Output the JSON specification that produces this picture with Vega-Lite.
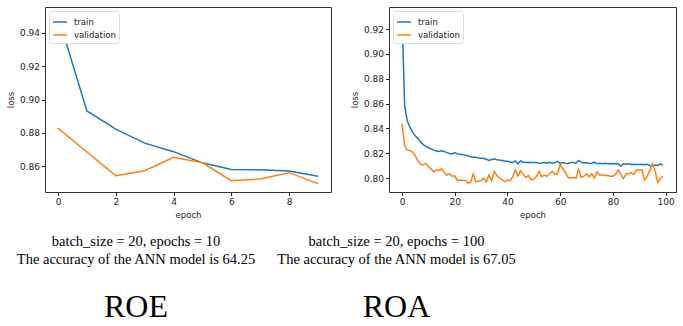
{
  "$schema": "https://vega.github.io/schema/vega-lite/v6.json",
  "padding": {"left": 5, "top": 6, "right": 3, "bottom": 5},
  "spacing": 58,
  "bounds": "flush",
  "background": "white",
  "datasets": {
    "roe": [
      {"epoch": 0, "loss": 0.9501, "series": "train"},
      {"epoch": 1, "loss": 0.8931, "series": "train"},
      {"epoch": 2, "loss": 0.8822, "series": "train"},
      {"epoch": 3, "loss": 0.8738, "series": "train"},
      {"epoch": 4, "loss": 0.8687, "series": "train"},
      {"epoch": 5, "loss": 0.8620, "series": "train"},
      {"epoch": 6, "loss": 0.8580, "series": "train"},
      {"epoch": 7, "loss": 0.8578, "series": "train"},
      {"epoch": 8, "loss": 0.8571, "series": "train"},
      {"epoch": 9, "loss": 0.8539, "series": "train"},
      {"epoch": 0, "loss": 0.8828, "series": "validation"},
      {"epoch": 1, "loss": 0.8685, "series": "validation"},
      {"epoch": 2, "loss": 0.8543, "series": "validation"},
      {"epoch": 3, "loss": 0.8573, "series": "validation"},
      {"epoch": 4, "loss": 0.8653, "series": "validation"},
      {"epoch": 5, "loss": 0.8620, "series": "validation"},
      {"epoch": 6, "loss": 0.8513, "series": "validation"},
      {"epoch": 7, "loss": 0.8523, "series": "validation"},
      {"epoch": 8, "loss": 0.8561, "series": "validation"},
      {"epoch": 9, "loss": 0.8495, "series": "validation"}
    ],
    "roa_train": [
      {"epoch": 0, "loss": 0.930}, {"epoch": 1, "loss": 0.858}, {"epoch": 2, "loss": 0.846}, {"epoch": 3, "loss": 0.841}, {"epoch": 4, "loss": 0.837},
      {"epoch": 5, "loss": 0.834}, {"epoch": 6, "loss": 0.832}, {"epoch": 7, "loss": 0.829}, {"epoch": 8, "loss": 0.827}, {"epoch": 9, "loss": 0.8255},
      {"epoch": 10, "loss": 0.8245}, {"epoch": 11, "loss": 0.8235}, {"epoch": 12, "loss": 0.8225}, {"epoch": 13, "loss": 0.8218}, {"epoch": 14, "loss": 0.8215},
      {"epoch": 15, "loss": 0.822}, {"epoch": 16, "loss": 0.8215}, {"epoch": 17, "loss": 0.8205}, {"epoch": 18, "loss": 0.8198}, {"epoch": 19, "loss": 0.8195},
      {"epoch": 20, "loss": 0.8205}, {"epoch": 21, "loss": 0.8195}, {"epoch": 22, "loss": 0.8192}, {"epoch": 23, "loss": 0.8188}, {"epoch": 24, "loss": 0.8185},
      {"epoch": 25, "loss": 0.818}, {"epoch": 26, "loss": 0.8172}, {"epoch": 27, "loss": 0.8168}, {"epoch": 28, "loss": 0.8168}, {"epoch": 29, "loss": 0.8162},
      {"epoch": 30, "loss": 0.816}, {"epoch": 31, "loss": 0.8158}, {"epoch": 32, "loss": 0.8152}, {"epoch": 33, "loss": 0.8142}, {"epoch": 34, "loss": 0.815},
      {"epoch": 35, "loss": 0.8155}, {"epoch": 36, "loss": 0.8148}, {"epoch": 37, "loss": 0.8145}, {"epoch": 38, "loss": 0.8142}, {"epoch": 39, "loss": 0.8138},
      {"epoch": 40, "loss": 0.8135}, {"epoch": 41, "loss": 0.813}, {"epoch": 42, "loss": 0.8125}, {"epoch": 43, "loss": 0.8138}, {"epoch": 44, "loss": 0.8115},
      {"epoch": 45, "loss": 0.8138}, {"epoch": 46, "loss": 0.8128}, {"epoch": 47, "loss": 0.8125}, {"epoch": 48, "loss": 0.8128}, {"epoch": 49, "loss": 0.8125},
      {"epoch": 50, "loss": 0.8125}, {"epoch": 51, "loss": 0.8125}, {"epoch": 52, "loss": 0.812}, {"epoch": 53, "loss": 0.8122}, {"epoch": 54, "loss": 0.8125},
      {"epoch": 55, "loss": 0.812}, {"epoch": 56, "loss": 0.8128}, {"epoch": 57, "loss": 0.812}, {"epoch": 58, "loss": 0.8125}, {"epoch": 59, "loss": 0.8135},
      {"epoch": 60, "loss": 0.8118}, {"epoch": 61, "loss": 0.8125}, {"epoch": 62, "loss": 0.812}, {"epoch": 63, "loss": 0.8118}, {"epoch": 64, "loss": 0.8125},
      {"epoch": 65, "loss": 0.8125}, {"epoch": 66, "loss": 0.812}, {"epoch": 67, "loss": 0.8142}, {"epoch": 68, "loss": 0.8128}, {"epoch": 69, "loss": 0.812},
      {"epoch": 70, "loss": 0.8125}, {"epoch": 71, "loss": 0.8118}, {"epoch": 72, "loss": 0.812}, {"epoch": 73, "loss": 0.8128}, {"epoch": 74, "loss": 0.8115},
      {"epoch": 75, "loss": 0.812}, {"epoch": 76, "loss": 0.8115}, {"epoch": 77, "loss": 0.812}, {"epoch": 78, "loss": 0.8115}, {"epoch": 79, "loss": 0.8118},
      {"epoch": 80, "loss": 0.8115}, {"epoch": 81, "loss": 0.8118}, {"epoch": 82, "loss": 0.8115}, {"epoch": 83, "loss": 0.8095}, {"epoch": 84, "loss": 0.8115},
      {"epoch": 85, "loss": 0.8112}, {"epoch": 86, "loss": 0.8115}, {"epoch": 87, "loss": 0.811}, {"epoch": 88, "loss": 0.8112}, {"epoch": 89, "loss": 0.811},
      {"epoch": 90, "loss": 0.811}, {"epoch": 91, "loss": 0.8112}, {"epoch": 92, "loss": 0.8108}, {"epoch": 93, "loss": 0.8112}, {"epoch": 94, "loss": 0.8102},
      {"epoch": 95, "loss": 0.8095}, {"epoch": 96, "loss": 0.8105}, {"epoch": 97, "loss": 0.8102}, {"epoch": 98, "loss": 0.8115}, {"epoch": 99, "loss": 0.8102}
    ],
    "roa_val": [
      {"epoch": 0, "loss": 0.844}, {"epoch": 1, "loss": 0.826}, {"epoch": 2, "loss": 0.8225}, {"epoch": 3, "loss": 0.8222}, {"epoch": 4, "loss": 0.821},
      {"epoch": 5, "loss": 0.818}, {"epoch": 6, "loss": 0.814}, {"epoch": 7, "loss": 0.811}, {"epoch": 8, "loss": 0.8105}, {"epoch": 9, "loss": 0.812},
      {"epoch": 10, "loss": 0.809}, {"epoch": 11, "loss": 0.8075}, {"epoch": 12, "loss": 0.805}, {"epoch": 13, "loss": 0.8068}, {"epoch": 14, "loss": 0.806},
      {"epoch": 15, "loss": 0.8075}, {"epoch": 16, "loss": 0.8045}, {"epoch": 17, "loss": 0.8025}, {"epoch": 18, "loss": 0.8035}, {"epoch": 19, "loss": 0.8015},
      {"epoch": 20, "loss": 0.8018}, {"epoch": 21, "loss": 0.798}, {"epoch": 22, "loss": 0.7985}, {"epoch": 23, "loss": 0.798}, {"epoch": 24, "loss": 0.798},
      {"epoch": 25, "loss": 0.796}, {"epoch": 26, "loss": 0.7965}, {"epoch": 27, "loss": 0.8032}, {"epoch": 28, "loss": 0.797}, {"epoch": 29, "loss": 0.7975},
      {"epoch": 30, "loss": 0.798}, {"epoch": 31, "loss": 0.800}, {"epoch": 32, "loss": 0.797}, {"epoch": 33, "loss": 0.8025}, {"epoch": 34, "loss": 0.798},
      {"epoch": 35, "loss": 0.8055}, {"epoch": 36, "loss": 0.802}, {"epoch": 37, "loss": 0.800}, {"epoch": 38, "loss": 0.7985}, {"epoch": 39, "loss": 0.797},
      {"epoch": 40, "loss": 0.7985}, {"epoch": 41, "loss": 0.798}, {"epoch": 42, "loss": 0.801}, {"epoch": 43, "loss": 0.8065}, {"epoch": 44, "loss": 0.8015},
      {"epoch": 45, "loss": 0.806}, {"epoch": 46, "loss": 0.803}, {"epoch": 47, "loss": 0.8005}, {"epoch": 48, "loss": 0.802}, {"epoch": 49, "loss": 0.7985},
      {"epoch": 50, "loss": 0.799}, {"epoch": 51, "loss": 0.8015}, {"epoch": 52, "loss": 0.8055}, {"epoch": 53, "loss": 0.801}, {"epoch": 54, "loss": 0.8025},
      {"epoch": 55, "loss": 0.8015}, {"epoch": 56, "loss": 0.8035}, {"epoch": 57, "loss": 0.8055}, {"epoch": 58, "loss": 0.803}, {"epoch": 59, "loss": 0.8035},
      {"epoch": 60, "loss": 0.811}, {"epoch": 61, "loss": 0.8075}, {"epoch": 62, "loss": 0.8045}, {"epoch": 63, "loss": 0.8005}, {"epoch": 64, "loss": 0.800},
      {"epoch": 65, "loss": 0.8005}, {"epoch": 66, "loss": 0.800}, {"epoch": 67, "loss": 0.807}, {"epoch": 68, "loss": 0.8005}, {"epoch": 69, "loss": 0.8015},
      {"epoch": 70, "loss": 0.8035}, {"epoch": 71, "loss": 0.801}, {"epoch": 72, "loss": 0.8035}, {"epoch": 73, "loss": 0.800}, {"epoch": 74, "loss": 0.805},
      {"epoch": 75, "loss": 0.8025}, {"epoch": 76, "loss": 0.8025}, {"epoch": 77, "loss": 0.802}, {"epoch": 78, "loss": 0.802}, {"epoch": 79, "loss": 0.8015},
      {"epoch": 80, "loss": 0.8015}, {"epoch": 81, "loss": 0.803}, {"epoch": 82, "loss": 0.8065}, {"epoch": 83, "loss": 0.803}, {"epoch": 84, "loss": 0.7995},
      {"epoch": 85, "loss": 0.8035}, {"epoch": 86, "loss": 0.8035}, {"epoch": 87, "loss": 0.8045}, {"epoch": 88, "loss": 0.803}, {"epoch": 89, "loss": 0.8065},
      {"epoch": 90, "loss": 0.8065}, {"epoch": 91, "loss": 0.8065}, {"epoch": 92, "loss": 0.7985}, {"epoch": 93, "loss": 0.8015}, {"epoch": 94, "loss": 0.806},
      {"epoch": 95, "loss": 0.8115}, {"epoch": 96, "loss": 0.806}, {"epoch": 97, "loss": 0.7965}, {"epoch": 98, "loss": 0.7995}, {"epoch": 99, "loss": 0.8015}
    ]
  },
  "config": {
    "view": {"stroke": "#333", "strokeWidth": 1},
    "axis": {
      "domain": false, "grid": false, "labelOverlap": false,
      "labelFont": "DejaVu Sans", "labelFontSize": 9, "labelColor": "#222",
      "tickColor": "#222", "tickSize": 3.5, "labelPadding": 2,
      "titleFont": "DejaVu Sans", "titleFontSize": 8.5, "titleFontWeight": "normal", "titleColor": "#222"
    },
    "legend": {
      "orient": "top-left", "offset": 4, "fillColor": "white", "strokeColor": "#ddd",
      "cornerRadius": 3, "padding": 3, "labelFont": "DejaVu Sans", "labelFontSize": 8.5,
      "labelColor": "#222", "symbolType": "stroke", "symbolStrokeWidth": 1.5, "symbolSize": 200,
      "rowPadding": 0, "labelOffset": 6, "title": null
    },
    "title": {
      "orient": "bottom", "anchor": "middle", "font": "Liberation Serif", "fontSize": 14.5,
      "fontWeight": "normal", "color": "black", "lineHeight": 18, "offset": 16,
      "subtitleFont": "Liberation Serif", "subtitleFontSize": 32, "subtitleColor": "black",
      "subtitlePadding": 24
    },
    "line": {"strokeWidth": 1.5}
  },
  "resolve": {"scale": {"color": "independent"}, "legend": {"color": "independent"}},
  "hconcat": [
    {
      "width": 286, "height": 185,
      "title": {"text": ["batch_size = 20, epochs = 10", "The accuracy of the ANN model is 64.25"], "subtitle": "ROE", "dx": -52},
      "data": {"name": "roe"},
      "mark": "line",
      "encoding": {
        "x": {"field": "epoch", "type": "quantitative", "scale": {"domain": [-0.45, 9.45], "nice": false, "zero": false},
              "axis": {"values": [0, 2, 4, 6, 8], "title": "epoch"}},
        "y": {"field": "loss", "type": "quantitative", "scale": {"domain": [0.8445, 0.9555], "nice": false, "zero": false},
              "axis": {"values": [0.86, 0.88, 0.90, 0.92, 0.94], "format": ".2f", "title": "loss"}},
        "color": {"field": "series", "type": "nominal", "scale": {"domain": ["train", "validation"], "range": ["#1f77b4", "#ff7f0e"]}}
      }
    },
    {
      "width": 287, "height": 185,
      "title": {"text": ["batch_size = 20, epochs = 100", "The accuracy of the ANN model is 67.05"], "subtitle": "ROA", "dx": -136},
      "encoding": {
        "x": {"field": "epoch", "type": "quantitative", "scale": {"domain": [-4.95, 103.95], "nice": false, "zero": false},
              "axis": {"values": [0, 20, 40, 60, 80, 100], "title": "epoch"}},
        "y": {"field": "loss", "type": "quantitative", "scale": {"domain": [0.7888, 0.9378], "nice": false, "zero": false},
              "axis": {"values": [0.80, 0.82, 0.84, 0.86, 0.88, 0.90, 0.92], "format": ".2f", "title": "loss"}},
        "color": {"field": "series", "type": "nominal", "scale": {"domain": ["train", "validation"], "range": ["#1f77b4", "#ff7f0e"]}}
      },
      "layer": [
        {
          "data": {"name": "roa_train"},
          "transform": [{"calculate": "'train'", "as": "series"}],
          "mark": "line"
        },
        {
          "data": {"name": "roa_val"},
          "transform": [{"calculate": "'validation'", "as": "series"}],
          "mark": "line"
        }
      ]
    }
  ]
}
